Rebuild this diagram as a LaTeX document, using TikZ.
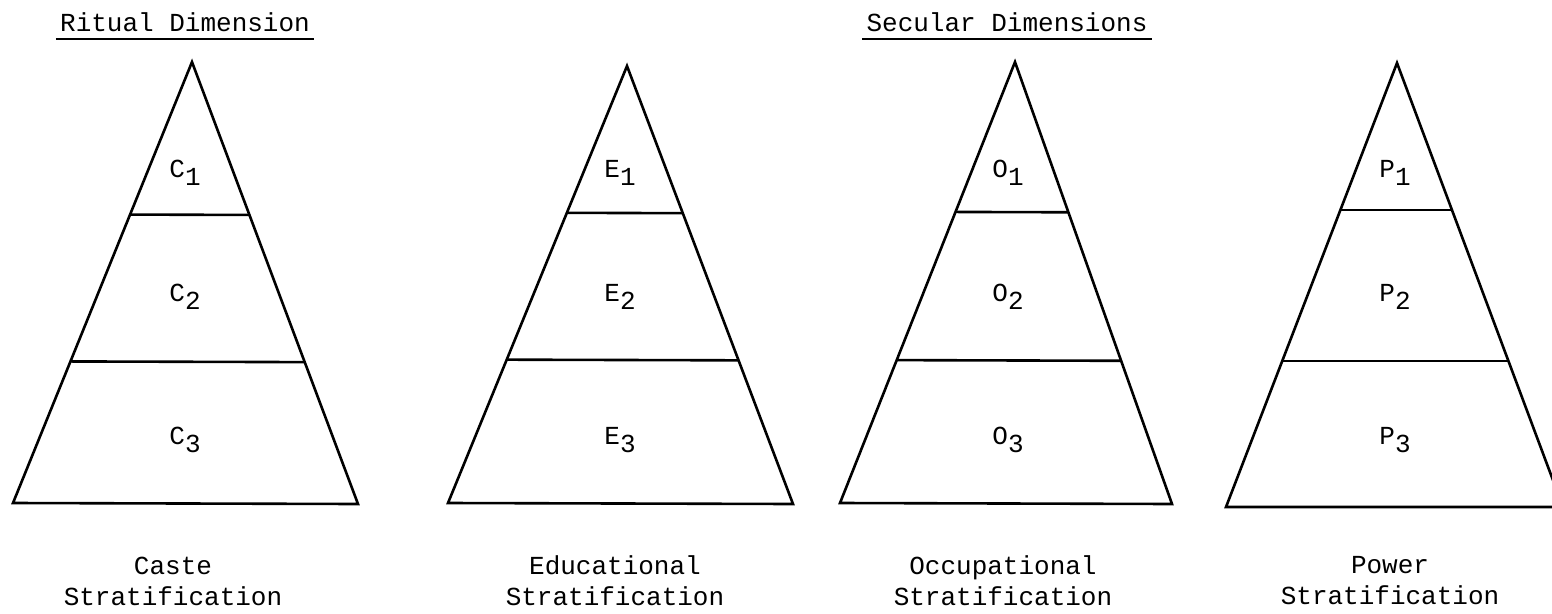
\documentclass[tikz,border=0pt]{standalone}
\usepackage{fontspec}
\setmonofont{Liberation Mono}
\usetikzlibrary{calc}

\newcommand{\stratum}[2]{#1\raisebox{-0.6ex}{#2}}

\begin{document}
\begin{tikzpicture}[
    x=1pt, y=-1pt,
    tri/.style={draw, line width=2.6pt},
    layer/.style={draw, line width=2.6pt},
    band/.style={font=\ttfamily\fontsize{26}{30}\selectfont, inner sep=0pt},
    caption/.style={font=\ttfamily\fontsize{26}{31}\selectfont, align=center, inner sep=0pt},
    heading/.style={font=\ttfamily\fontsize{26}{30}\selectfont, inner sep=0pt, anchor=base}
]
    \useasboundingbox (0,0) rectangle (1552,613);

    % Headings
    \node[heading] (ritual) at (185,31) {Ritual Dimension};
    \node[heading] (secular) at (1007,31) {Secular Dimensions};
    \draw[line width=2pt] ($(ritual.base west)+(-4,8)$) -- ($(ritual.base east)+(4,8)$);
    \draw[line width=2pt] ($(secular.base west)+(-4,8)$) -- ($(secular.base east)+(4,8)$);

    % Caste
    \coordinate (c-top) at (192,62);
    \coordinate (c-left) at (13,503);
    \coordinate (c-right) at (358,504);
    \draw[tri] (c-top) -- (c-left) -- (c-right) -- cycle;
    \draw[layer] ($(c-top)!0.346!(c-left)$) -- ($(c-top)!0.346!(c-right)$);
    \draw[layer] ($(c-top)!0.679!(c-left)$) -- ($(c-top)!0.679!(c-right)$);
    \node[band] (c1) at (185,173) {\stratum{C}{1}};
    \node[band] (c2) at (185,297) {\stratum{C}{2}};
    \node[band] (c3) at (185,440) {\stratum{C}{3}};
    \node[caption] (caste) at (173,581) {Caste\\Stratification};

    % Educational
    \coordinate (e-top) at (627,66);
    \coordinate (e-left) at (448,503);
    \coordinate (e-right) at (793,504);
    \draw[tri] (e-top) -- (e-left) -- (e-right) -- cycle;
    \draw[layer] ($(e-top)!0.336!(e-left)$) -- ($(e-top)!0.336!(e-right)$);
    \draw[layer] ($(e-top)!0.672!(e-left)$) -- ($(e-top)!0.672!(e-right)$);
    \node[band] (e1) at (620,173) {\stratum{E}{1}};
    \node[band] (e2) at (620,297) {\stratum{E}{2}};
    \node[band] (e3) at (620,440) {\stratum{E}{3}};
    \node[caption] (educ) at (615,581) {Educational\\Stratification};

    % Occupational
    \coordinate (o-top) at (1015,62);
    \coordinate (o-left) at (840,503);
    \coordinate (o-right) at (1172,504);
    \draw[tri] (o-top) -- (o-left) -- (o-right) -- cycle;
    \draw[layer] ($(o-top)!0.34!(o-left)$) -- ($(o-top)!0.34!(o-right)$);
    \draw[layer] ($(o-top)!0.676!(o-left)$) -- ($(o-top)!0.676!(o-right)$);
    \node[band] (o1) at (1008,173) {\stratum{O}{1}};
    \node[band] (o2) at (1008,297) {\stratum{O}{2}};
    \node[band] (o3) at (1008,440) {\stratum{O}{3}};
    \node[caption] (occup) at (1003,581) {Occupational\\Stratification};

    % Power
    \coordinate (p-top) at (1397,63);
    \coordinate (p-left) at (1226,507);
    \coordinate (p-right) at (1563,507);
    \draw[tri] (p-top) -- (p-left) -- (p-right) -- cycle;
    \draw[layer] ($(p-top)!0.331!(p-left)$) -- ($(p-top)!0.331!(p-right)$);
    \draw[layer] ($(p-top)!0.671!(p-left)$) -- ($(p-top)!0.671!(p-right)$);
    \node[band] (p1) at (1395,173) {\stratum{P}{1}};
    \node[band] (p2) at (1395,297) {\stratum{P}{2}};
    \node[band] (p3) at (1395,440) {\stratum{P}{3}};
    \node[caption] (power) at (1390,581) {Power\\Stratification};
\end{tikzpicture}
\end{document}
